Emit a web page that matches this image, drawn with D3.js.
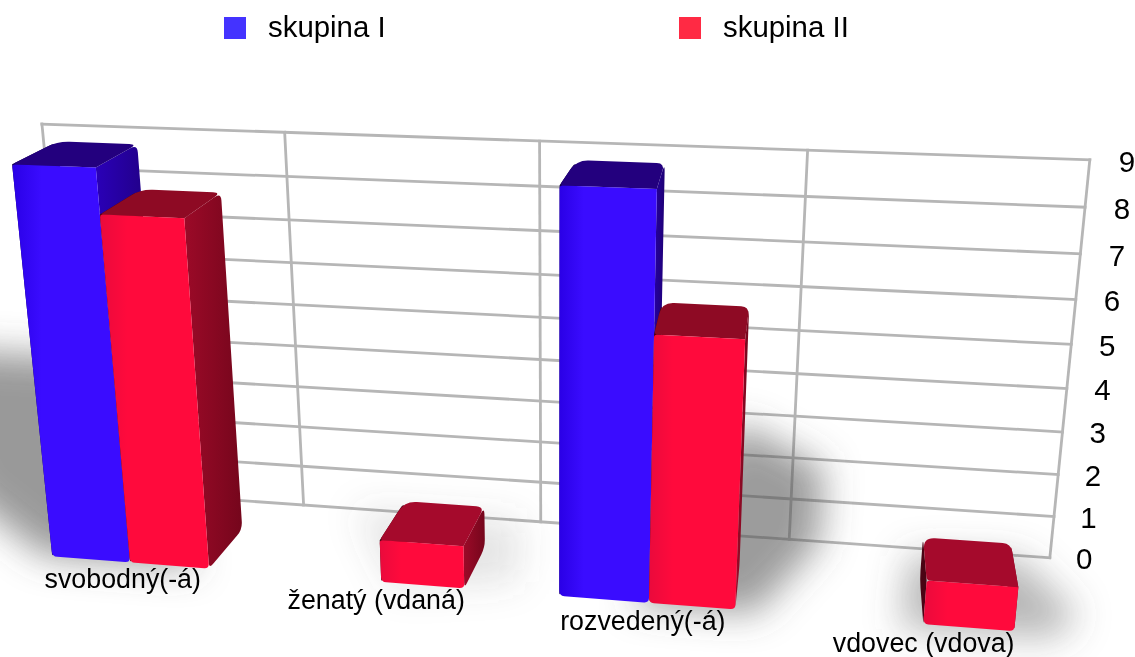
<!DOCTYPE html>
<html><head><meta charset="utf-8">
<style>html,body{margin:0;padding:0;background:#fff}svg{display:block}text{font-family:"Liberation Sans",Arial,sans-serif;fill:#000}</style>
<script src="https://cdn.jsdelivr.net/npm/d3@7"></script></head><body>
<script>
const categories=["svobodný(-á)","ženatý (vdaná)","rozvedený(-á)","vdovec (vdova)"];
const seriesNames=["skupina I","skupina II"];
const skupinaI=[9,0,9,0];
const skupinaII=[8,1,6,1];
const valueTicks=[0,1,2,3,4,5,6,7,8,9];

const W=1135,H=657;
const svg=d3.select("body").append("svg").attr("width",W).attr("height",H);
const defs=svg.append("defs");
defs.append("filter").attr("id","blur").attr("x","-60%").attr("y","-60%").attr("width","220%").attr("height","220%")
  .append("feGaussianBlur").attr("stdDeviation",18);

// Three-point perspective: scales give the homogeneous weight of each world axis.
const VX=[-9876,-215],VY=[556,5474],VZ=[864,-333],O=[77,489];
const xW=d3.scaleLinear([0,4],[0,4*-0.02226]);
const yW=d3.scaleLinear([0,9],[0,9*-0.00758]);
const zW=d3.scaleLinear([0,1],[0,-0.104]);
function project(x,y,z){
  const a=xW(x),b=yW(y),c=zW(z),d=1+a+b+c;
  return [(a*VX[0]+b*VY[0]+c*VZ[0]+O[0])/d,(a*VX[1]+b*VY[1]+c*VZ[1]+O[1])/d];
}
const band=d3.scaleBand(categories,[0,4]).paddingInner(.36).paddingOuter(.18);
const inner=d3.scaleBand(seriesNames,[0,band.bandwidth()]);
// front faces sit slightly further out near the wide-angle edge of the view
const lensShift=d3.scaleLinear([0,2.2,2.5,4],[-.026,-.008,.008,0]);
const zBack=.3,zFront=.7;

function rounded(pts,radii){
  const n=pts.length;let s="";
  pts.forEach((p,i)=>{
    const a=pts[(i+n-1)%n],b=pts[(i+1)%n],r=radii[i];
    const la=Math.hypot(a[0]-p[0],a[1]-p[1]),lb=Math.hypot(b[0]-p[0],b[1]-p[1]);
    const ra=Math.min(r,la/2),rb=Math.min(r,lb/2);
    const p0=[p[0]+(a[0]-p[0])*ra/la,p[1]+(a[1]-p[1])*ra/la];
    const p1=[p[0]+(b[0]-p[0])*rb/lb,p[1]+(b[1]-p[1])*rb/lb];
    s+=(i?"L":"M")+p0[0]+","+p0[1]+"Q"+p[0]+","+p[1]+" "+p1[0]+","+p1[1];
  });
  return s+"Z";
}

// wall grid
const grid=svg.append("g").attr("fill","none").attr("stroke","#b6b6b6").attr("stroke-width",2.8).attr("stroke-linecap","square");
const line=d3.line();
valueTicks.forEach(v=>grid.append("path").attr("d",line([project(0,v,0),project(4,v,0)])));
d3.range(0,5).forEach(x=>grid.append("path").attr("d",line([project(x,0,0),project(x,9,0)])));

// soft shadows, cast away from the middle of the chart
const shadows=svg.append("g").attr("filter","url(#blur)");
const shadowParts=[
 {pts:[[-.36,4.4,.5],[.4,4.4,.5],[.75,0,.7],[.12,0,.7],[-.28,.9,.5]],o:.6},
 {pts:[[1.35,1.2,.5],[2,1.2,.5],[2,0,.6],[1.55,0,.75]],o:.16},
 {pts:[[2.45,0,.72],[2.9,0,.72],[3.12,1.2,.5],[3.12,2.9,.5],[2.8,3.8,.5]],o:.58},
 {pts:[[3.42,0,.75],[3.95,0,.74],[4.05,.2,.6],[3.85,.9,.4],[3.45,.8,.4]],o:.42}
];
shadowParts.forEach(s=>shadows.append("path").attr("fill","#555").attr("opacity",s.o)
   .attr("d",line(s.pts.map(p=>project(...p)))+"Z"));

// colours per series
const colours={
 "skupina I":{front:["#2a00e6","#3a0cff"],top:"#23007e",sideN:"#2a00b8",sideF:"#1e0074",left:"#14004c",legend:"#4433ff"},
 "skupina II":{front:["#ea0a3c","#ff0a3c"],top:"#8e0a24",sideN:"#9c0a28",sideF:"#75061c",left:"#4a0414",legend:"#ff2a44"}
};
Object.entries(colours).forEach(([k,c],i)=>{
  const g=defs.append("linearGradient").attr("id","f"+i);
  g.append("stop").attr("offset",0).attr("stop-color",c.front[0]);
  g.append("stop").attr("offset",.25).attr("stop-color",c.front[1]);
  g.append("stop").attr("offset",1).attr("stop-color",c.front[1]);
  const h=defs.append("linearGradient").attr("id","s"+i);
  h.append("stop").attr("offset",0).attr("stop-color",c.sideN);
  h.append("stop").attr("offset",1).attr("stop-color",c.sideF);
});

const rows=[skupinaI,skupinaII];
const barsG=svg.append("g");
categories.forEach((cat,ci)=>{
  seriesNames.forEach((name,si)=>{
    const v=rows[si][ci]; if(!v) return;
    const xa=band(cat)+inner(name),xb=xa+inner.bandwidth();
    const x0=xa+lensShift(xa),x1=xb+lensShift(xb);
    const c=colours[name];
    const P=project;
    const g=barsG.append("g");
    // left side (seen only right of the depth vanishing point)
    g.append("path").attr("fill",c.left).attr("d",rounded(
      [P(x0,0,zFront),P(x0,v,zFront),P(xa,v,zBack),P(xa,0,zBack)],[3,0,9,9]));
    // right side
    g.append("path").attr("fill",`url(#s${si})`).attr("d",rounded(
      [P(x1,0,zFront),P(x1,v,zFront),P(xb,v,zBack),P(xb,0,zBack)],[6,0,8,8]));
    // top
    const smallTop=v<=1;
    g.append("path").attr("fill",smallTop?"#a50a2c":c.top).attr("d",rounded(
      [P(x0,v,zFront),P(x1,v,zFront),P(xb,v,zBack),P(xa,v,zBack)],[4,0,8,12]));
    // front
    g.append("path").attr("fill",`url(#f${si})`).attr("d",rounded(
      [P(x0,v,zFront),P(x1,v,zFront),P(x1,0,zFront),P(x0,0,zFront)],[3,0,5,5]));
  });
});

// value labels
const labelDrop=d3.scaleLinear([0,9],[8.5,11]);
valueTicks.forEach(v=>{
  const p=project(4.128,v,0);
  svg.append("text").attr("x",p[0]).attr("y",p[1]+labelDrop(v)).attr("text-anchor","middle").attr("font-size",29.5).text(v);
});
// category labels
categories.forEach(cat=>{
  const p=project(band(cat)+band.bandwidth()/2,0,.85);
  svg.append("text").attr("x",p[0]).attr("y",p[1]+10).attr("text-anchor","middle").attr("font-size",26.8).text(cat);
});
// legend
const legendX=d3.scaleOrdinal(seriesNames,[224,679]);
seriesNames.forEach(name=>{
  svg.append("rect").attr("x",legendX(name)).attr("y",17).attr("width",22).attr("height",22).attr("fill",colours[name].legend);
  svg.append("text").attr("x",legendX(name)+44).attr("y",37).attr("font-size",29.4).text(name);
});
</script></body></html>
